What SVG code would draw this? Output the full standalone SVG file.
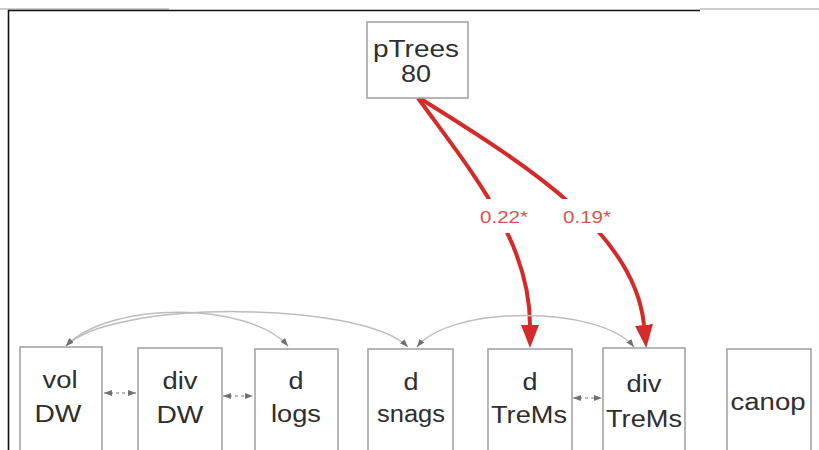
<svg xmlns="http://www.w3.org/2000/svg" width="819" height="450" viewBox="0 0 819 450">
  <style>
    .box { fill: #ffffff; stroke: #9e9e9e; stroke-width: 1.5; }
    .lbl { font-family: "Liberation Sans", Arial, sans-serif; font-size: 23px; fill: #2e2e2e; text-anchor: middle; }
    .elbl { font-family: "Liberation Sans", Arial, sans-serif; font-size: 17px; fill: #d9534f; text-anchor: middle; }
    .red { fill: none; stroke: #d42a2a; stroke-width: 4; }
    .arc { fill: none; stroke: #bdbdbd; stroke-width: 1.5; }
    .dot { fill: none; stroke: #a8a8a8; stroke-width: 1.5; stroke-dasharray: 3 3; }
  </style>
  <defs>
    <marker id="redH" viewBox="0 0 24 18" refX="0" refY="9" markerWidth="24" markerHeight="18" markerUnits="userSpaceOnUse" orient="auto">
      <path d="M0,0 L23,9 L0,18 z" fill="#d42a2a"/>
    </marker>
    <marker id="grayHead" viewBox="0 0 8 6" refX="8" refY="3" markerWidth="8" markerHeight="6" markerUnits="userSpaceOnUse" orient="auto-start-reverse">
      <path d="M0,0 L8,3 L0,6 z" fill="#707070"/>
    </marker>
    <mask id="labelGaps" maskUnits="userSpaceOnUse" x="0" y="0" width="819" height="450">
      <rect x="0" y="0" width="819" height="450" fill="#ffffff"/>
      <rect x="476" y="199" width="56" height="34" fill="#000000"/>
      <rect x="558" y="199" width="58" height="34" fill="#000000"/>
    </mask>
  </defs>

  <rect x="0" y="0" width="819" height="450" fill="#ffffff"/>

  <g id="frame">
    <line x1="0" y1="9" x2="169" y2="9" stroke="#9a9a9a" stroke-width="1"/>
    <line x1="700" y1="9" x2="819" y2="9" stroke="#9a9a9a" stroke-width="1"/>
    <line x1="8" y1="10.5" x2="700" y2="10.5" stroke="#111111" stroke-width="1.6"/>
    <line x1="8.5" y1="10" x2="8.5" y2="450" stroke="#111111" stroke-width="1.6"/>
  </g>

  <g id="connectors">
    <g id="red-edges" mask="url(#labelGaps)">
      <path class="red" d="M418,98 C470,170 530,240 530,325" marker-end="url(#redH)"/>
      <path class="red" d="M421,99 C535,170 635,235 644,325" marker-end="url(#redH)"/>
    </g>
    <text class="elbl" x="504" y="223" textLength="48" lengthAdjust="spacingAndGlyphs">0.22*</text>
    <text class="elbl" x="587" y="223" textLength="48" lengthAdjust="spacingAndGlyphs">0.19*</text>

    <path class="arc" d="M66,346 C110,300 250,302 288,346" marker-start="url(#grayHead)" marker-end="url(#grayHead)"/>
    <path class="arc" d="M66,346 C110,300 360,300 408,347" marker-start="url(#grayHead)" marker-end="url(#grayHead)"/>
    <path class="arc" d="M417,347 C450,305 600,305 634,347" marker-start="url(#grayHead)" marker-end="url(#grayHead)"/>

    <line class="dot" x1="104" y1="393" x2="136" y2="393" marker-start="url(#grayHead)" marker-end="url(#grayHead)"/>
    <line class="dot" x1="223" y1="396" x2="253" y2="396" marker-start="url(#grayHead)" marker-end="url(#grayHead)"/>
    <line class="dot" x1="573" y1="398" x2="602" y2="398" marker-start="url(#grayHead)" marker-end="url(#grayHead)"/>

    <line x1="55" y1="446" x2="55" y2="450" stroke="#555555" stroke-width="3"/>
    <line x1="295" y1="447" x2="295" y2="450" stroke="#e06060" stroke-width="3"/>
    <line x1="410" y1="447" x2="410" y2="450" stroke="#e06060" stroke-width="3"/>
    <line x1="765" y1="447" x2="765" y2="450" stroke="#e06060" stroke-width="3"/>
  </g>

  <g id="pTrees">
    <rect class="box" x="367" y="22" width="101" height="76"/>
    <text class="lbl" x="416" y="57" textLength="86" lengthAdjust="spacingAndGlyphs">pTrees</text>
    <text class="lbl" x="416" y="82" textLength="30" lengthAdjust="spacingAndGlyphs">80</text>
  </g>

  <g id="volDW">
    <rect class="box" x="20" y="347" width="82" height="115"/>
    <text class="lbl" x="60" y="388" textLength="35" lengthAdjust="spacingAndGlyphs">vol</text>
    <text class="lbl" x="58" y="422" textLength="47" lengthAdjust="spacingAndGlyphs">DW</text>
  </g>

  <g id="divDW">
    <rect class="box" x="138" y="348" width="84" height="115"/>
    <text class="lbl" x="180" y="389" textLength="35" lengthAdjust="spacingAndGlyphs">div</text>
    <text class="lbl" x="180" y="423" textLength="47" lengthAdjust="spacingAndGlyphs">DW</text>
  </g>

  <g id="dlogs">
    <rect class="box" x="255" y="349" width="83" height="115"/>
    <text class="lbl" x="296" y="389" textLength="15" lengthAdjust="spacingAndGlyphs">d</text>
    <text class="lbl" x="296" y="422" textLength="50" lengthAdjust="spacingAndGlyphs">logs</text>
  </g>

  <g id="dsnags">
    <rect class="box" x="368" y="349" width="85" height="115"/>
    <text class="lbl" x="411" y="390" textLength="15" lengthAdjust="spacingAndGlyphs">d</text>
    <text class="lbl" x="411" y="422" textLength="68" lengthAdjust="spacingAndGlyphs">snags</text>
  </g>

  <g id="dTreMs">
    <rect class="box" x="488" y="349" width="84" height="115"/>
    <text class="lbl" x="530" y="390" textLength="15" lengthAdjust="spacingAndGlyphs">d</text>
    <text class="lbl" x="529" y="423" textLength="76" lengthAdjust="spacingAndGlyphs">TreMs</text>
  </g>

  <g id="divTreMs">
    <rect class="box" x="603" y="348" width="82" height="115"/>
    <text class="lbl" x="644" y="392" textLength="35" lengthAdjust="spacingAndGlyphs">div</text>
    <text class="lbl" x="644" y="427" textLength="76" lengthAdjust="spacingAndGlyphs">TreMs</text>
  </g>

  <g id="canop">
    <rect class="box" x="727" y="349" width="84" height="115"/>
    <text class="lbl" x="768" y="410" textLength="75" lengthAdjust="spacingAndGlyphs">canop</text>
  </g>
</svg>
